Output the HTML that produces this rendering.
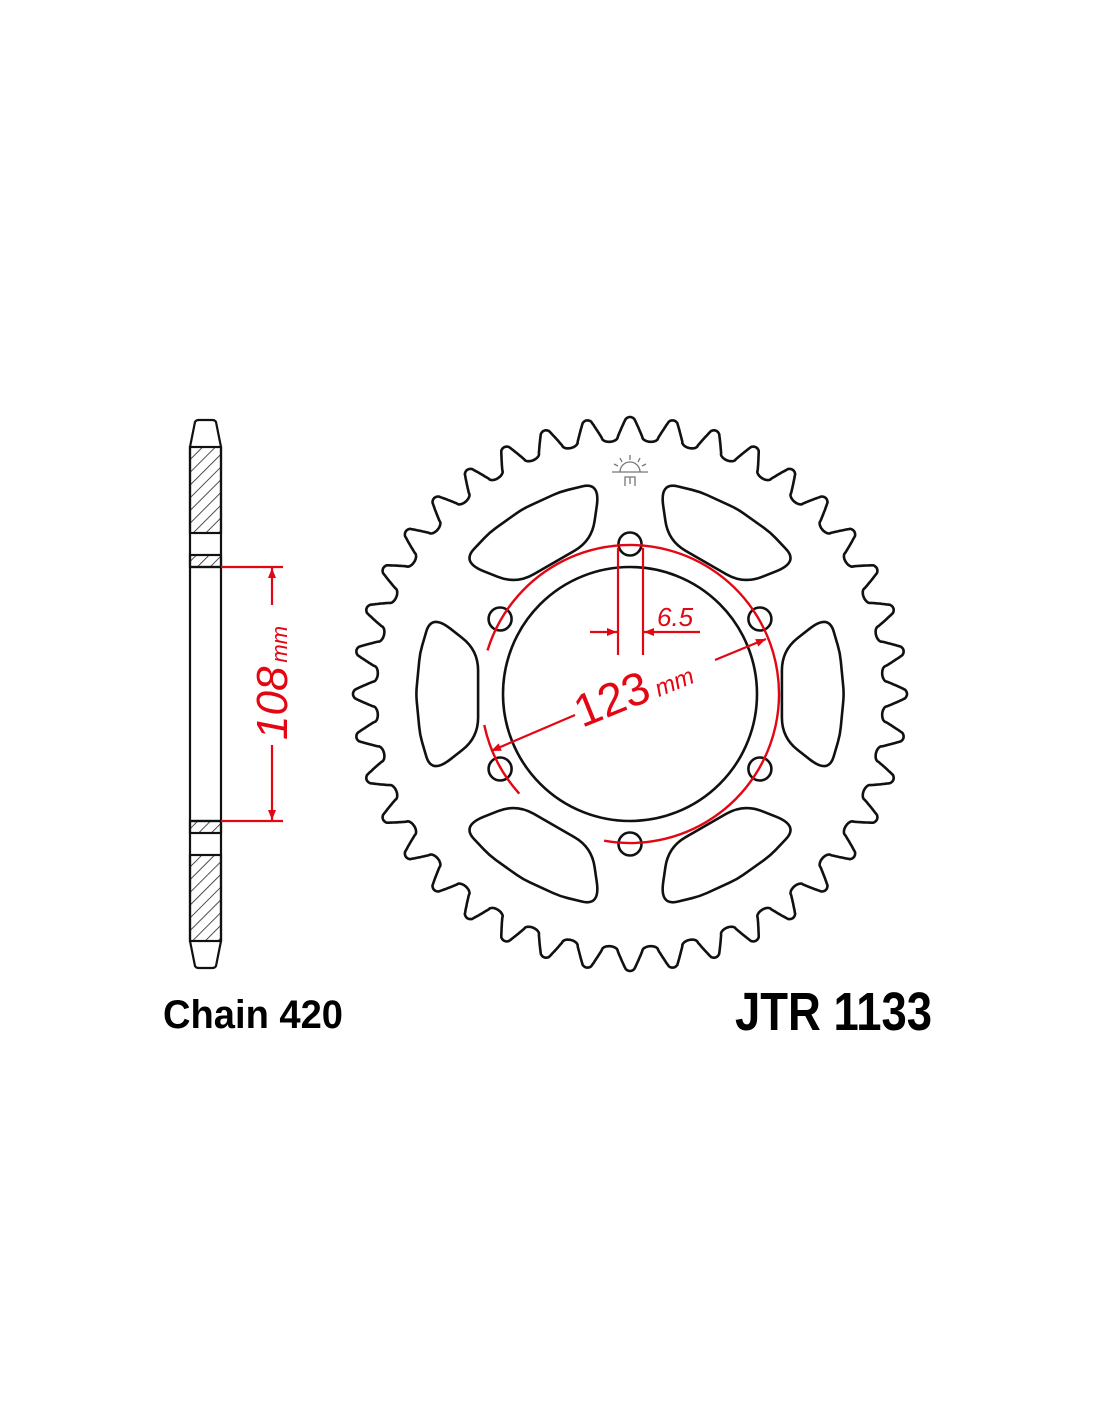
<!DOCTYPE html>
<html><head><meta charset="utf-8"><style>
html,body{margin:0;padding:0;background:#fff;}
svg{display:block;}
</style></head><body>
<svg id="s" width="1100" height="1422" viewBox="0 0 1100 1422" xmlns="http://www.w3.org/2000/svg">
<defs>
<pattern id="h" width="9" height="9" patternUnits="userSpaceOnUse" patternTransform="rotate(45)">
<line x1="0" y1="0" x2="0" y2="9" stroke="#222" stroke-width="1.6"/>
</pattern>
<marker id="ar" viewBox="0 0 10 10" refX="10" refY="5" markerWidth="14" markerHeight="10" markerUnits="userSpaceOnUse" orient="auto"><path d="M0,1 L10,5 L0,9 z" fill="#e30613"/></marker>
</defs>
<g id="gear" fill="none" stroke="#111" stroke-width="2.6" stroke-linejoin="round"></g>

<g stroke="#111" stroke-width="2.2" fill="none">
<rect x="190" y="447" width="31" height="86" fill="url(#h)"/>
<rect x="190" y="555" width="31" height="12" fill="url(#h)"/>
<rect x="190" y="821" width="31" height="12" fill="url(#h)"/>
<rect x="190" y="855" width="31" height="86" fill="url(#h)"/>
<path d="M190,447 L195,422 Q196,420 199,420 L212,420 Q215,420 216,422 L221,447"/>
<path d="M190,941 L195,966 Q196,968 199,968 L212,968 Q215,968 216,966 L221,941"/>
<line x1="190" y1="447" x2="190" y2="941"/>
<line x1="221" y1="447" x2="221" y2="941"/>
<line x1="190" y1="567" x2="221" y2="567"/>
<line x1="190" y1="821" x2="221" y2="821"/>
</g>
<g stroke="#e30613" stroke-width="2.2" fill="none">
<line x1="221" y1="567" x2="283" y2="567"/>
<line x1="221" y1="821" x2="283" y2="821"/>
<line x1="272" y1="605" x2="272" y2="568" marker-end="url(#ar)"/>
<line x1="272" y1="745" x2="272" y2="820" marker-end="url(#ar)"/>
</g>
<text transform="translate(287,740) rotate(-90)" font-family="Liberation Sans, sans-serif" fill="#e30613" font-size="44" font-style="italic">108<tspan font-size="22" dx="4">mm</tspan></text>

<g stroke="#e30613" stroke-width="2.4" fill="none" id="red"></g>
<g stroke="#e30613" stroke-width="2.2" fill="none">
<line x1="618" y1="548" x2="618" y2="655"/>
<line x1="643" y1="548" x2="643" y2="655"/>
<line x1="590" y1="632" x2="617" y2="632" marker-end="url(#ar)"/>
<line x1="700" y1="632" x2="644" y2="632" marker-end="url(#ar)"/>
<line x1="715" y1="660" x2="766" y2="639" marker-end="url(#ar)"/>
<line x1="575" y1="715" x2="491" y2="751" marker-end="url(#ar)"/>
</g>
<text x="657" y="626" font-family="Liberation Sans, sans-serif" fill="#e30613" font-size="26" font-style="italic">6.5</text>
<text transform="translate(582,728) rotate(-22)" font-family="Liberation Sans, sans-serif" fill="#e30613" font-size="46">123<tspan font-size="24" font-style="italic" dx="6">mm</tspan></text>

<g stroke="#777" stroke-width="1.3" fill="none">
<path d="M620,472 A10,10 0 0 1 640,472"/>
<line x1="612" y1="472" x2="648" y2="472"/>
<line x1="630" y1="455" x2="630" y2="460"/>
<line x1="620" y1="458" x2="622" y2="462"/>
<line x1="640" y1="458" x2="638" y2="462"/>
<line x1="614" y1="464" x2="618" y2="466"/>
<line x1="646" y1="464" x2="642" y2="466"/>
<path d="M625,486 L625,477 L635,477 L635,486 M630,477 L630,484"/>
</g>

<text x="163" y="1028" font-family="Liberation Sans, sans-serif" font-weight="bold" font-size="40" textLength="180" lengthAdjust="spacingAndGlyphs">Chain 420</text>
<text x="735" y="1030" font-family="Liberation Sans, sans-serif" font-weight="bold" font-size="54" textLength="197" lengthAdjust="spacingAndGlyphs">JTR 1133</text>
</svg>
<script>
(function(){
var cx=630,cy=694,NS="http://www.w3.org/2000/svg";
function P(r,d){var a=d*Math.PI/180;return [cx+r*Math.cos(a),cy-r*Math.sin(a)];}
var g=document.getElementById('gear');
function add(par,tag,attrs){var e=document.createElementNS(NS,tag);for(var k in attrs)e.setAttribute(k,attrs[k]);par.appendChild(e);return e;}
var N=40,rR=253,rT=277,pts=[],S=N*80;
for(var i=0;i<=S;i++){
  var th=90+360*i/S;
  var p=((th-90)/(360/N));p=p-Math.round(p);var a=Math.abs(p),gg;
  if(a<0.1)gg=1-0.08*(a/0.1)*(a/0.1);
  else if(a<0.3)gg=0.92-(a-0.1)/0.2*0.72;
  else{var t=(0.5-a)/0.2;gg=0.2-0.2*Math.sqrt(Math.max(0,1-t*t));}
  var q=P(rR+(rT-rR)*gg,th);pts.push(q[0].toFixed(1)+','+q[1].toFixed(1));
}
add(g,'path',{d:'M'+pts.join(' L')+'Z'});
add(g,'circle',{cx:cx,cy:cy,r:127});
for(var k=0;k<6;k++){var c=P(150,90+60*k);add(g,'circle',{cx:c[0],cy:c[1],r:11.5});}
function rounded(cs,rads){
  var n=cs.length,d='';
  for(var i=0;i<n;i++){
    var A=cs[(i-1+n)%n],B=cs[i],C=cs[(i+1)%n],rad=rads[i];
    function off(F,T,L){var dx=T[0]-F[0],dy=T[1]-F[1],l=Math.hypot(dx,dy);L=Math.min(L,l*0.45);return [F[0]+dx/l*L,F[1]+dy/l*L];}
    var p1=off(B,A,rad),p2=off(B,C,rad);
    d+=(i==0?'M':'L')+p1[0].toFixed(1)+','+p1[1].toFixed(1)+' Q'+B[0].toFixed(1)+','+B[1].toFixed(1)+' '+p2[0].toFixed(1)+','+p2[1].toFixed(1)+' ';
  }
  return d+'Z';
}
for(var k=0;k<6;k++){
  var m=60*k;
  var cs=[P(214,m+22),P(214,m+11),P(214,m),P(214,m-11),P(214,m-22),P(158,m-16),P(158,m+16)];
  add(g,'path',{d:rounded(cs,[24,8,8,8,24,20,20])});
}
var red=document.getElementById('red');
function arc(r,a1,a2){var s=P(r,a1),e=P(r,a2);var sweep=(a1-a2+360)%360;return 'M'+s[0]+','+s[1]+' A'+r+','+r+' 0 '+(sweep>180?1:0)+' 1 '+e[0]+','+e[1];}
add(red,'path',{d:arc(149,163,-100)});
add(red,'path',{d:arc(149,222,192)});
})();
</script>
</body></html>
